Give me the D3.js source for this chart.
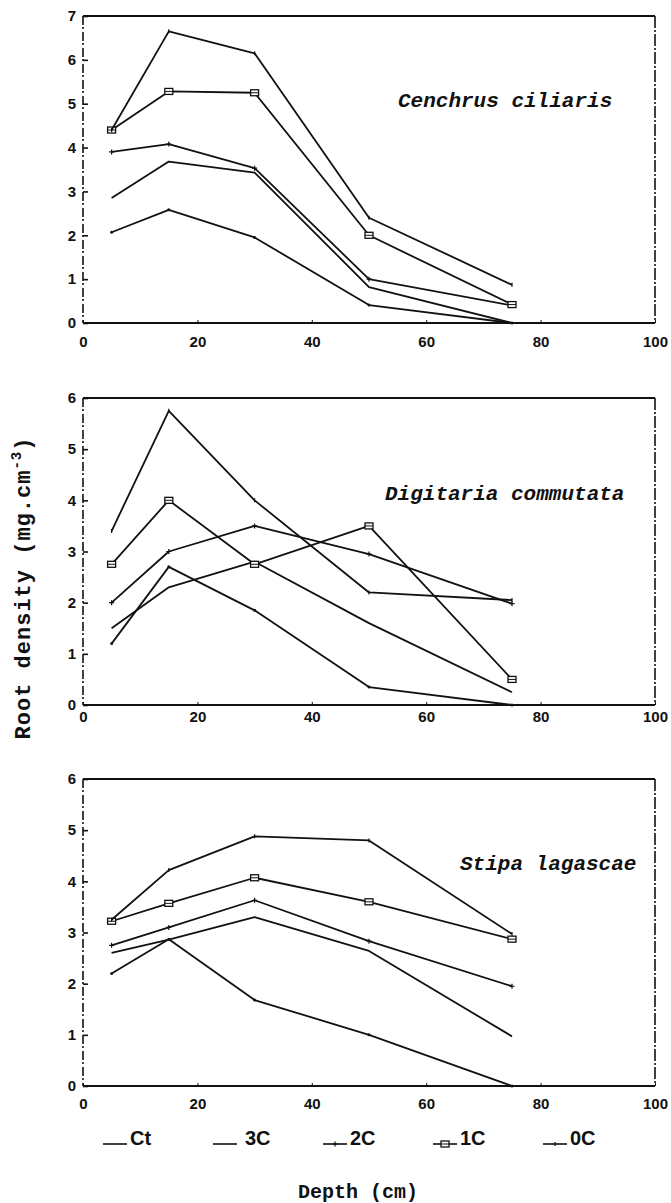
<!DOCTYPE html>
<html>
<head>
<meta charset="utf-8">
<script src="https://cdn.jsdelivr.net/npm/d3@7"></script>
<style>
  body { margin: 0; background: #fff; }
  svg text { fill: #111; }
</style>
</head>
<body>
<script>
// sampling depths (cm) and clipping treatments
const depths = [5, 15, 30, 50, 75];
const treatments = ["Ct", "3C", "2C", "1C", "0C"];
const xTicks = [0, 20, 40, 60, 80, 100];

// root density (mg.cm-3), one row per treatment, in the order above
const cenchrus = [
    [2.07, 2.58, 1.95, 0.41, 0.0],
    [2.85, 3.68, 3.43, 0.82, 0.0],
    [3.9, 4.08, 3.53, 1.0, 0.4],
    [4.4, 5.28, 5.25, 2.0, 0.42],
    [4.4, 6.65, 6.15, 2.4, 0.87]
];
const digitaria = [
    [1.2, 2.7, 1.85, 0.35, 0.0],
    [1.5, 2.3, 2.8, 1.6, 0.25],
    [2.0, 3.0, 3.5, 2.95, 1.98],
    [2.75, 4.0, 2.75, 3.5, 0.5],
    [3.4, 5.75, 4.0, 2.2, 2.05]
];
const stipa = [
    [2.2, 2.87, 1.68, 1.0, 0.0],
    [2.6, 2.86, 3.3, 2.64, 0.97],
    [2.75, 3.1, 3.63, 2.83, 1.95],
    [3.22, 3.57, 4.07, 3.6, 2.87],
    [3.25, 4.22, 4.88, 4.8, 2.97]
];

const markerType = { "Ct": "dot", "3C": "none", "2C": "tick", "1C": "square", "0C": "cross" };

const panels = [
    { name: "Cenchrus ciliaris", values: cenchrus, yMax: 7, top: 16, bottom: 323, pad: 13, tx: 398, ty: 107 },
    { name: "Digitaria commutata", values: digitaria, yMax: 6, top: 398, bottom: 705, pad: 6, tx: 385, ty: 500 },
    { name: "Stipa lagascae", values: stipa, yMax: 6, top: 779, bottom: 1086, pad: 12, tx: 460, ty: 870 }
];

const svg = d3.select("body")
    .append("svg")
    .attr("width", 671)
    .attr("height", 1203);

const x = d3.scaleLinear().domain([0, 100]).range([83, 655]);

const tickFont = "'Liberation Sans Narrow', 'Liberation Sans', Arial, sans-serif";
const monoFont = "'Liberation Mono', 'DejaVu Sans Mono', monospace";

function drawMarker(g, type, cx, cy) {
    if (type === "dot") {
        g.append("circle").attr("cx", cx).attr("cy", cy).attr("r", 1.5).attr("fill", "#111");
    } else if (type === "tick") {
        g.append("path").attr("d", `M${cx - 2.5},${cy}h5M${cx},${cy - 2.5}v5`)
            .attr("stroke", "#111").attr("stroke-width", 1.2);
    } else if (type === "square") {
        g.append("rect").attr("x", cx - 4).attr("y", cy - 3).attr("width", 8).attr("height", 6)
            .attr("fill", "#fff").attr("stroke", "#111").attr("stroke-width", 1.3);
        g.append("line").attr("x1", cx - 4).attr("x2", cx + 4).attr("y1", cy).attr("y2", cy)
            .attr("stroke", "#111").attr("stroke-width", 1);
    } else if (type === "cross") {
        g.append("path").attr("d", `M${cx},${cy - 2}v4`)
            .attr("stroke", "#111").attr("stroke-width", 1.2);
    }
}

panels.forEach(p => {
    const y = d3.scaleLinear().domain([0, p.yMax]).range([p.bottom, p.top]);
    const g = svg.append("g");

    // frame: top and bottom solid, sides broken like the scan
    g.append("line").attr("x1", x(0)).attr("x2", x(100)).attr("y1", p.top).attr("y2", p.top)
        .attr("stroke", "#111").attr("stroke-width", 2);
    g.append("line").attr("x1", x(0)).attr("x2", x(100)).attr("y1", p.bottom).attr("y2", p.bottom)
        .attr("stroke", "#111").attr("stroke-width", 2.2);
    g.append("line").attr("x1", x(0)).attr("x2", x(0)).attr("y1", p.top).attr("y2", p.bottom)
        .attr("stroke", "#111").attr("stroke-width", 1.6).attr("stroke-dasharray", "9,2,2,3");
    g.append("line").attr("x1", x(100)).attr("x2", x(100)).attr("y1", p.top).attr("y2", p.bottom)
        .attr("stroke", "#111").attr("stroke-width", 1.6).attr("stroke-dasharray", "12,2,2,2");

    const yAxis = g.append("g")
        .attr("transform", `translate(${x(0)},0)`)
        .call(d3.axisLeft(y).ticks(p.yMax).tickSize(-5).tickPadding(7).tickFormat(d3.format("d")));
    yAxis.select(".domain").remove();
    yAxis.selectAll("line").attr("stroke", "#111").attr("stroke-width", 1.6);
    yAxis.selectAll("text")
        .attr("font-family", tickFont).attr("font-weight", "bold").attr("font-size", 15);

    const xAxis = g.append("g")
        .attr("transform", `translate(0,${p.bottom})`)
        .call(d3.axisBottom(x).tickValues(xTicks).tickSize(-3).tickPadding(p.pad));
    xAxis.select(".domain").remove();
    xAxis.selectAll("line").attr("stroke", "#111").attr("stroke-width", 1);
    xAxis.selectAll("text")
        .attr("font-family", tickFont).attr("font-weight", "bold").attr("font-size", 15);

    const line = d3.line()
        .x((d, i) => x(depths[i]))
        .y(d => y(d));

    p.values.forEach((vals, k) => {
        g.append("path")
            .datum(vals)
            .attr("d", line)
            .attr("fill", "none")
            .attr("stroke", "#111")
            .attr("stroke-width", 1.8)
            .attr("stroke-linejoin", "round");
        vals.forEach((v, i) => drawMarker(g, markerType[treatments[k]], x(depths[i]), y(v)));
    });

    g.append("text")
        .attr("x", p.tx)
        .attr("y", p.ty)
        .attr("font-family", monoFont)
        .attr("font-style", "italic")
        .attr("font-weight", "bold")
        .attr("font-size", 21)
        .text(p.name);
});

// y axis title
const yTitle = svg.append("text")
    .attr("transform", "translate(30,588) rotate(-90)")
    .attr("text-anchor", "middle")
    .attr("font-family", monoFont)
    .attr("font-weight", "bold")
    .attr("font-size", 22)
    .attr("letter-spacing", 1);
yTitle.append("tspan").text("Root density (mg.cm");
yTitle.append("tspan").attr("dy", -9).attr("font-size", 14).text("-3");
yTitle.append("tspan").attr("dy", 9).text(")");

// x axis title
svg.append("text")
    .attr("x", 358)
    .attr("y", 1198)
    .attr("text-anchor", "middle")
    .attr("font-family", monoFont)
    .attr("font-weight", "bold")
    .attr("font-size", 20)
    .text("Depth (cm)");

// legend
const lx = d3.scalePoint().domain(treatments).range([103, 543]);
const legend = svg.selectAll(".legend")
    .data(treatments)
    .enter()
    .append("g")
    .attr("class", "legend")
    .attr("transform", d => `translate(${lx(d)},1144)`);

legend.append("line")
    .attr("x1", 0).attr("x2", 24)
    .attr("stroke", "#111").attr("stroke-width", 1.6);
legend.each(function (d) {
    const t = markerType[d];
    if (t === "tick" || t === "square" || t === "cross") drawMarker(d3.select(this), t, 12, 0);
});
legend.append("text")
    .attr("x", d => (d === "3C" ? 32 : 27))
    .attr("y", 1)
    .attr("font-family", tickFont)
    .attr("font-weight", "bold")
    .attr("font-size", 20)
    .text(d => d);
</script>
</body>
</html>
